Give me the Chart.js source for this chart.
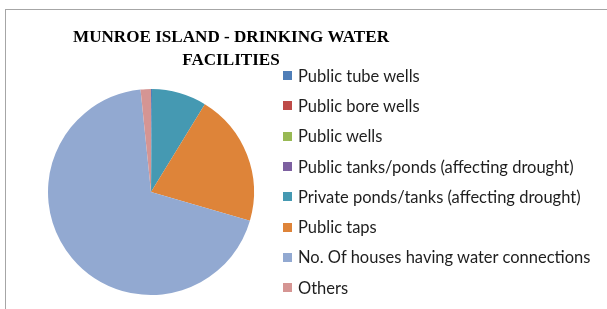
<!DOCTYPE html>
<html>
<head>
<meta charset="utf-8">
<script src="https://cdn.jsdelivr.net/npm/chart.js@4/dist/chart.umd.min.js"></script>
<style>
  html, body { margin: 0; padding: 0; background: #ffffff; }
  #wrap { position: relative; width: 607px; height: 309px; overflow: hidden; }
  #c { position: absolute; left: 0; top: 0; }
  #legend { position: absolute; left: 283px; top: 60.55px; margin: 0; padding: 0; list-style: none;
            font-family: Lato, "Open Sans", sans-serif; font-size: 16.5px; color: #1e1e1e; }
  #legend li { height: 30.3px; display: flex; align-items: center; white-space: nowrap; }
  #legend .box { display: inline-block; width: 9px; height: 9px; margin-right: 6px; flex: none; }
</style>
</head>
<body>
<div id="wrap">
  <canvas id="c" width="607" height="309"></canvas>
  <ul id="legend"></ul>
</div>
<script>
const titleLines = ["MUNROE ISLAND - DRINKING WATER", "FACILITIES"];
const categories = [
  "Public tube wells",
  "Public bore wells",
  "Public wells",
  "Public tanks/ponds (affecting drought)",
  "Private ponds/tanks (affecting drought)",
  "Public taps",
  "No. Of houses having water connections",
  "Others"
];
const values = [1, 0, 0, 0, 53, 128, 425, 10];
const colors = ["#4F7EB8", "#BE4B48", "#98B954", "#7D60A0", "#4599B2", "#DE8439", "#92A9D1", "#D59593"];

const framePlugin = {
  id: 'frame',
  beforeDraw(chart) {
    const ctx = chart.ctx;
    ctx.save();
    ctx.fillStyle = '#ffffff';
    ctx.fillRect(0, 0, chart.width, chart.height);
    ctx.strokeStyle = '#a6a6a6';
    ctx.lineWidth = 1;
    ctx.strokeRect(5.5, 9.5, 800, 400);
    ctx.restore();
  }
};

const titlePlugin = {
  id: 'centredTitle',
  afterDraw(chart) {
    const ctx = chart.ctx;
    ctx.save();
    ctx.fillStyle = '#000000';
    ctx.font = 'bold 17.1px "Liberation Serif", "Times New Roman", serif';
    ctx.textAlign = 'center';
    ctx.textBaseline = 'alphabetic';
    ctx.fillText(titleLines[0], 231, 42);
    ctx.fillText(titleLines[1], 231, 65);
    ctx.restore();
  }
};

// HTML legend built from the chart's own legend items
const htmlLegendPlugin = {
  id: 'htmlLegend',
  afterUpdate(chart) {
    const ul = document.getElementById('legend');
    while (ul.firstChild) ul.firstChild.remove();
    const items = chart.options.plugins.legend.labels.generateLabels(chart);
    items.forEach(item => {
      const li = document.createElement('li');
      const box = document.createElement('span');
      box.className = 'box';
      box.style.background = item.fillStyle;
      const txt = document.createElement('span');
      txt.textContent = item.text;
      li.appendChild(box);
      li.appendChild(txt);
      ul.appendChild(li);
    });
  }
};

new Chart(document.getElementById('c'), {
  type: 'pie',
  data: {
    labels: categories,
    datasets: [{
      data: values,
      backgroundColor: colors,
      borderWidth: 0,
      radius: 103
    }]
  },
  options: {
    responsive: false,
    animation: false,
    layout: { padding: { left: 33, right: 338, top: 80, bottom: 5 } },
    plugins: {
      title: { display: false },
      legend: { display: false },
      tooltip: { enabled: false }
    }
  },
  plugins: [framePlugin, titlePlugin, htmlLegendPlugin]
});
</script>
</body>
</html>
